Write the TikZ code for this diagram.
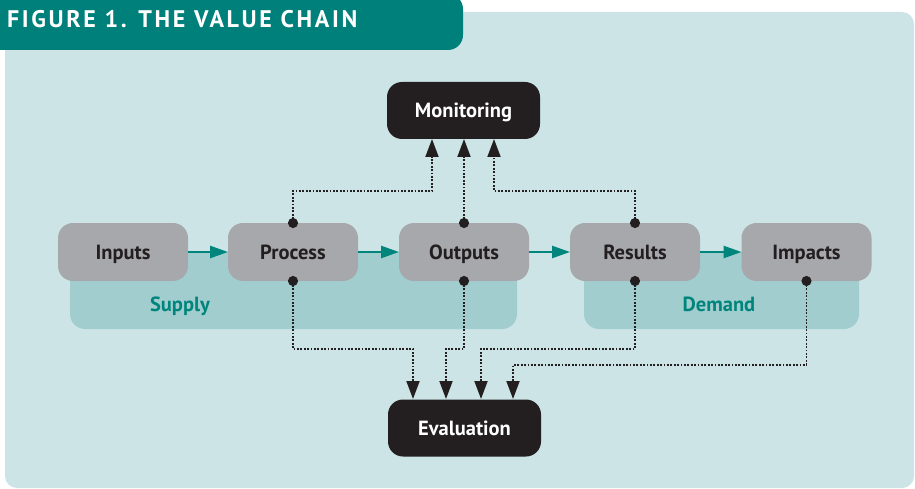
\documentclass[tikz,border=0pt]{standalone}
\usepackage{fontspec}
\setmainfont{PT Sans}
\usetikzlibrary{arrows.meta}
\definecolor{ccce4e6}{RGB}{204,228,230}
\definecolor{c00807a}{RGB}{0,128,122}
\definecolor{ca1cdcf}{RGB}{161,205,207}
\definecolor{ca7a8ab}{RGB}{167,168,171}
\definecolor{c231f20}{RGB}{35,31,32}
\definecolor{c00857c}{RGB}{0,133,124}

\begin{document}
\begin{tikzpicture}[y=1pt, x=1pt, yscale=-1, inner sep=0pt, outer sep=0pt,
  stage/.style={fill=ca7a8ab, rounded corners=15pt, minimum width=130pt,
    minimum height=58pt, text=c231f20, text height=14pt, text depth=0pt,
    font=\fontsize{20.5}{24}\selectfont\bfseries},
  check/.style={fill=c231f20, rounded corners=15pt, minimum width=153pt,
    minimum height=57pt, text=white, text height=14pt, text depth=0pt,
    font=\fontsize{20.5}{24}\selectfont\bfseries},
  flow/.style={draw=c00857c, line width=2.5pt,
    -{Triangle[length=18pt,width=12pt]}},
  link/.style={draw=c231f20, line width=1.9pt, dash pattern=on 1.8pt off 1.6pt,
    shorten <=-5pt, {Circle[length=10pt]}-{Triangle[length=18pt,width=13pt]}}]
  \useasboundingbox (0,0) rectangle (915,489);
  \path[fill=ccce4e6, rounded corners=12pt] (5,12) rectangle (914,488);
  \path[fill=c00807a, rounded corners=15pt] (-20,-6) rectangle (463,50);
  \path[fill=ca1cdcf, rounded corners=15pt] (70,252) rectangle (517,329);
  \path[fill=ca1cdcf, rounded corners=15pt] (584,252) rectangle (859,329);
  \node[anchor=base west, text=white,
    font=\fontsize{24}{26}\selectfont\bfseries\addfontfeature{LetterSpace=11}]
    (text-title) at (7,28) {FIGURE 1. THE VALUE CHAIN};

  \node[stage] (box-inputs) at (123,252) {Inputs};
  \node[stage] (box-process) at (293,252) {Process};
  \node[stage] (box-outputs) at (464,252) {Outputs};
  \node[stage] (box-results) at (635,252) {Results};
  \node[stage] (box-impacts) at (806.5,252) {Impacts};
  \node[check] (box-monitoring) at (463.5,110.5) {Monitoring};
  \node[check] (box-evaluation) at (464.5,428) {Evaluation};

  \node[text=c00857c, text height=14pt, text depth=0pt,
    font=\fontsize{20.5}{24}\selectfont\bfseries] (text-supply) at (180,304) {Supply};
  \node[text=c00857c, text height=14pt, text depth=0pt,
    font=\fontsize{20.5}{24}\selectfont\bfseries] (text-demand) at (719,304) {Demand};

  \draw[flow] (box-inputs) -- (box-process);
  \draw[flow] (box-process) -- (box-outputs);
  \draw[flow] (box-outputs) -- (box-results);
  \draw[flow] (box-results) -- (box-impacts);

  \coordinate (mon-in-1) at (432,139);
  \coordinate (mon-in-3) at (494,139);
  \draw[link] (box-process.north) -- ++(0,-32) -| (mon-in-1);
  \draw[link] (box-outputs.north) -- (box-outputs.north |- box-monitoring.south);
  \draw[link] (box-results.north) -- ++(0,-32) -| (mon-in-3);

  \coordinate (eva-in-1) at (413,399);
  \coordinate (eva-in-2) at (446,399);
  \coordinate (eva-in-3) at (481,399);
  \coordinate (eva-in-4) at (513,399);
  \draw[link] (box-process.south) -- ++(0,68) -| (eva-in-1);
  \draw[link] (box-outputs.south) -- ++(0,68) -| (eva-in-2);
  \draw[link] (box-results.south) -- ++(0,68) -| (eva-in-3);
  \draw[link] (box-impacts.south) -- ++(0,84) -| (eva-in-4);
\end{tikzpicture}
\end{document}
